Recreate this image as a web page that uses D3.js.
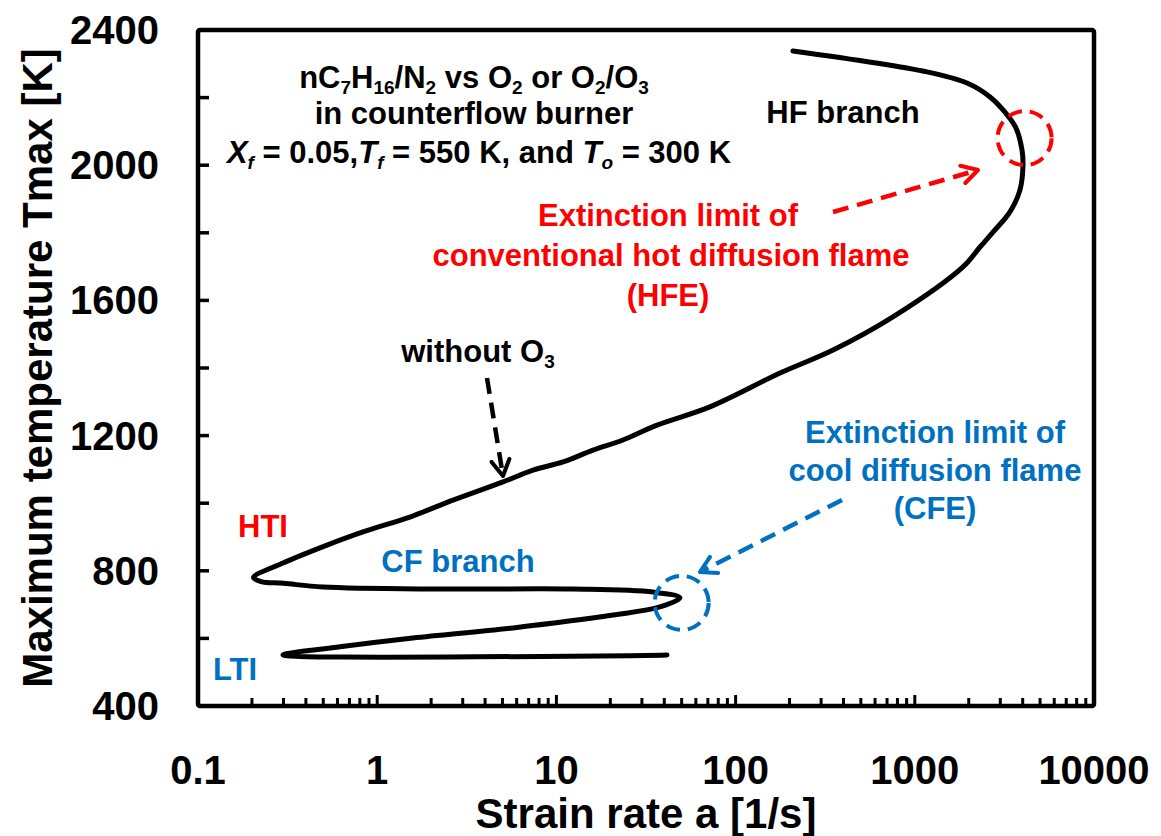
<!DOCTYPE html>
<html>
<head>
<meta charset="utf-8">
<script src="https://cdn.jsdelivr.net/npm/d3@7"></script>
<style>
  body { margin: 0; background: #fff; }
  svg { display: block; font-family: "Liberation Sans", Arial, sans-serif; font-weight: bold; }
</style>
</head>
<body>
<div id="chart"></div>
<script>
// S-curve of Tmax vs strain rate (nC7H16/N2 vs O2, without O3)
const strainRate = [209, 1170, 1956, 2628, 3186, 3671, 3965, 4016, 3864, 3396, 2732,
  2312, 1858, 755, 350, 177, 71.9, 36.4, 23.5, 16.0, 10.9, 7.40, 5.04, 2.65, 1.52, 0.833,
  0.525, 0.298, 0.204, 0.225, 0.300, 0.498, 2.24, 12.4, 34.6, 48.9, 37.8, 20.7,
  5.73, 1.58, 0.62, 0.298, 41.4];
const tmax = [2338, 2276, 2243, 2202, 2157, 2110, 2045, 2001, 1927, 1862, 1802,
  1758, 1699, 1551, 1453, 1385, 1285, 1231, 1187, 1157, 1122, 1098, 1063, 1009, 959, 915,
  876, 823, 780, 768, 763, 752, 746, 746, 737, 720, 693, 669,
  631, 601, 575, 551, 551];

const xTickValues = [0.1, 1, 10, 100, 1000, 10000];
const xTickLabels = ["0.1", "1", "10", "100", "1000", "10000"];
const yTickValues = [400, 800, 1200, 1600, 2000, 2400];
const yMinorValues = [600, 1000, 1400, 1800, 2200];

// extinction points marked by dashed circles
const hfePoint = [4100, 2080];
const cfePoint = [50, 705];

const width = 1161, height = 836;
const margin = { left: 198, right: 67, top: 30, bottom: 130 };

const svg = d3.select("#chart").append("svg")
  .attr("width", width)
  .attr("height", height);

const x = d3.scaleLog()
  .domain([0.1, 10000])
  .range([margin.left, width - margin.right]);
const y = d3.scaleLinear()
  .domain([400, 2400])
  .range([height - margin.bottom, margin.top]);

// arrow heads
const defs = svg.append("defs");
[["black", "#000"], ["red", "#ff0000"], ["blue", "#0070c0"]].forEach(([id, c]) => {
  defs.append("marker")
    .attr("id", "arrow-" + id)
    .attr("viewBox", "0 0 10 10")
    .attr("refX", 8).attr("refY", 5)
    .attr("markerWidth", 5).attr("markerHeight", 5)
    .attr("markerUnits", "strokeWidth")
    .attr("orient", "auto")
    .append("path")
    .attr("d", "M1,1 L8,5 L1,9")
    .attr("fill", "none")
    .attr("stroke", c)
    .attr("stroke-width", 1.8)
    .attr("stroke-linecap", "round")
    .attr("stroke-linejoin", "round");
});

// minor x ticks (inside)
const xMinor = [];
for (let d = 0.1; d < 10000; d *= 10) {
  for (let k = 2; k <= 9; k++) xMinor.push(d * k);
}
const x0 = x.range()[0], x1 = x.range()[1];
const y0 = y.range()[0], y1 = y.range()[1];

svg.append("g").selectAll("line.xminor")
  .data(xMinor).enter().append("line")
  .attr("x1", d => x(d)).attr("x2", d => x(d))
  .attr("y1", y0).attr("y2", y0 - 8)
  .attr("stroke", "#000").attr("stroke-width", 3);

svg.append("g").selectAll("line.xmajor")
  .data(xTickValues).enter().append("line")
  .attr("x1", d => x(d)).attr("x2", d => x(d))
  .attr("y1", y0).attr("y2", y0 - 11)
  .attr("stroke", "#000").attr("stroke-width", 3);

svg.append("g").selectAll("line.yt")
  .data(yTickValues.concat(yMinorValues)).enter().append("line")
  .attr("x1", x0).attr("x2", x0 + 11)
  .attr("y1", d => y(d)).attr("y2", d => y(d))
  .attr("stroke", "#000").attr("stroke-width", 3.5);

// frame
svg.append("rect")
  .attr("x", x0).attr("y", y1)
  .attr("width", x1 - x0).attr("height", y0 - y1)
  .attr("fill", "none")
  .attr("stroke", "#000")
  .attr("stroke-width", 4.5)
  .attr("rx", 2);

// tick labels
svg.append("g").selectAll("text")
  .data(xTickValues).enter().append("text")
  .attr("x", d => x(d))
  .attr("y", y0 + 78)
  .attr("text-anchor", "middle")
  .attr("font-size", 40)
  .text((d, i) => xTickLabels[i]);

svg.append("g").selectAll("text")
  .data(yTickValues).enter().append("text")
  .attr("x", x0 - 39)
  .attr("y", d => y(d) + 14)
  .attr("text-anchor", "end")
  .attr("font-size", 40)
  .text(d => d);

// axis titles
svg.append("text")
  .attr("x", (x0 + x1) / 2)
  .attr("y", height - 8)
  .attr("text-anchor", "middle")
  .attr("font-size", 42)
  .text("Strain rate a [1/s]");

svg.append("text")
  .attr("transform", `translate(52, ${(y0 + y1) / 2}) rotate(-90)`)
  .attr("text-anchor", "middle")
  .attr("font-size", 42)
  .text("Maximum temperature Tmax [K]");

// the curve
const points = strainRate.map((a, i) => [a, tmax[i]]);
const line = d3.line()
  .x(d => x(d[0]))
  .y(d => y(d[1]))
  .curve(d3.curveCatmullRom.alpha(0.5));

svg.append("path")
  .datum(points)
  .attr("d", line)
  .attr("fill", "none")
  .attr("stroke", "#000")
  .attr("stroke-width", 5)
  .attr("stroke-linecap", "round")
  .attr("stroke-linejoin", "round");

// extinction circles
svg.append("circle")
  .attr("cx", x(hfePoint[0])).attr("cy", y(hfePoint[1]))
  .attr("r", 27)
  .attr("fill", "none")
  .attr("stroke", "#ff0000")
  .attr("stroke-width", 4)
  .attr("stroke-dasharray", "14 8");

svg.append("circle")
  .attr("cx", x(cfePoint[0])).attr("cy", y(cfePoint[1]))
  .attr("r", 27)
  .attr("fill", "none")
  .attr("stroke", "#0070c0")
  .attr("stroke-width", 4)
  .attr("stroke-dasharray", "14 8");

// dashed arrows
function arrow(xa, ya, xb, yb, color, id) {
  svg.append("line")
    .attr("x1", xa).attr("y1", ya)
    .attr("x2", xb).attr("y2", yb)
    .attr("stroke", color)
    .attr("stroke-width", 4.5)
    .attr("stroke-dasharray", "16 9")
    .attr("marker-end", `url(#arrow-${id})`);
}
arrow(833, 212, 978, 170, "#ff0000", "red");
arrow(487, 378, 503, 476, "#000", "black");
arrow(842, 500, 700, 572, "#0070c0", "blue");

// text annotations
const fs = 31, subFs = 19, subDy = 6;
function label(txt, cx, cy, color) {
  svg.append("text")
    .attr("x", cx).attr("y", cy)
    .attr("text-anchor", "middle")
    .attr("font-size", fs)
    .attr("fill", color)
    .text(txt);
}

// rich text: parts are [text, isSub, isItalic]
function richText(parts, cx, cy) {
  const t = svg.append("text")
    .attr("x", cx).attr("y", cy)
    .attr("text-anchor", "middle")
    .attr("font-size", fs);
  let prevSub = false;
  parts.forEach(([s, sub, ital]) => {
    const ts = t.append("tspan").text(s);
    if (sub && !prevSub) ts.attr("dy", subDy);
    if (!sub && prevSub) ts.attr("dy", -subDy);
    if (sub) ts.attr("font-size", subFs);
    if (ital) ts.attr("font-style", "italic");
    prevSub = sub;
  });
  return t;
}

richText([["nC"], ["7", 1], ["H"], ["16", 1], ["/N"], ["2", 1], [" vs O"], ["2", 1],
  [" or O"], ["2", 1], ["/O"], ["3", 1]], 474, 88);
label("in counterflow burner", 474, 124, "#000");
richText([["X", 0, 1], ["f", 1, 1], [" = 0.05,"], ["T", 0, 1], ["f", 1, 1],
  [" = 550 K, and "], ["T", 0, 1], ["o", 1, 1], [" = 300 K"]], 479, 163);

label("HF branch", 843, 123, "#000");

label("Extinction limit of", 668, 226, "#ff0000");
label("conventional hot diffusion flame", 671, 266, "#ff0000");
label("(HFE)", 668, 306, "#ff0000");

richText([["without O"], ["3", 1]], 478, 362);

label("Extinction limit of", 935, 443, "#0070c0");
label("cool diffusion flame", 935, 481, "#0070c0");
label("(CFE)", 935, 519, "#0070c0");

label("HTI", 263, 537, "#ff0000");
label("CF branch", 458, 572, "#0070c0");
label("LTI", 235, 680, "#0070c0");
</script>
</body>
</html>
